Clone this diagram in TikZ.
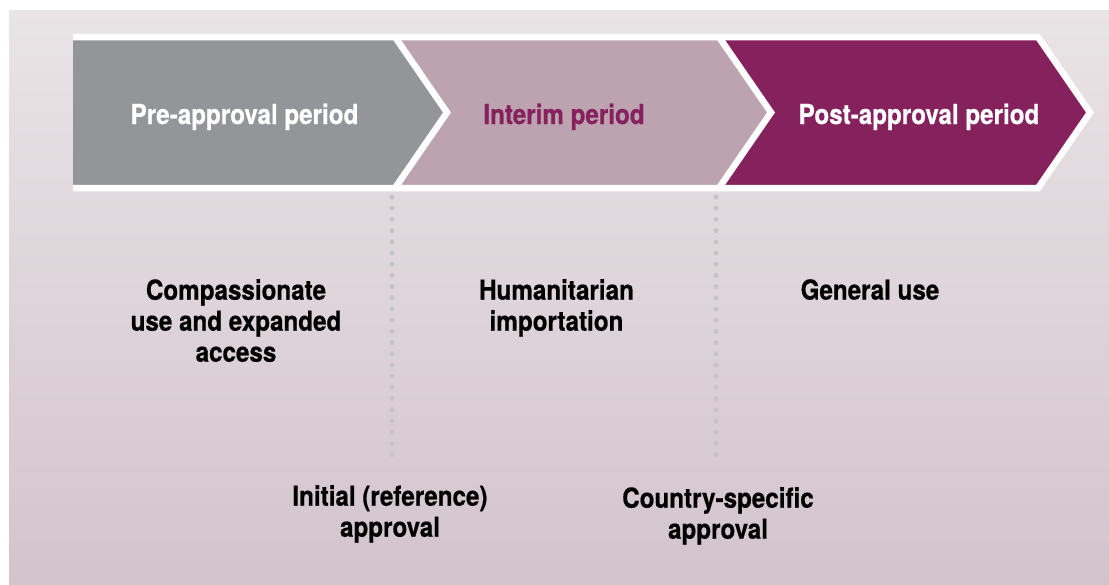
\documentclass[tikz,border=0pt]{standalone}
\usepackage{fontspec}
\setmainfont{TeX Gyre Heros}[FakeStretch=0.88, BoldFeatures={FakeBold=0.6}]
\definecolor{bgtop}{HTML}{E9E4E6}
\definecolor{bgbot}{HTML}{D3C4CC}
\definecolor{cgray}{HTML}{939598}
\definecolor{cpink}{HTML}{BDA3AF}
\definecolor{cpurple}{HTML}{85215D}
\definecolor{dotcol}{HTML}{C3C5C8}
\tikzset{
  head/.style={inner sep=0pt, anchor=base, font=\fontsize{27.5}{31}\selectfont\bfseries},
  body/.style={inner sep=0pt, anchor=north, align=center, text=black, font=\fontsize{27.5}{31}\selectfont\bfseries},
  sepline/.style={white, line width=6.5pt, line join=miter},
  dotline/.style={dotcol, line width=5pt, line cap=round, dash pattern=on 0pt off 11.2pt}
}
\begin{document}
\begin{tikzpicture}[x=1pt,y=-1pt]
\useasboundingbox (0,0) rectangle (1109,584);
\fill[white] (0,0) rectangle (1109,584);
\shade[top color=bgtop, bottom color=bgbot] (9,10) rectangle (1109,584);
% chevrons
\fill[cgray] (73,37) -- (395,37) -- (447,112.5) -- (395,188) -- (73,188) -- cycle;
\fill[cpink] (395,37) -- (719,37) -- (771,112.5) -- (719,188) -- (395,188) -- (447,112.5) -- cycle;
\fill[cpurple] (719,37) -- (1038,37) -- (1090,112.5) -- (1038,188) -- (719,188) -- (771,112.5) -- cycle;
% white outlines
\draw[sepline] (73,37) -- (1038,37) -- (1090,112.5) -- (1038,188) -- (73,188);
\draw[sepline] (395,37) -- (447,112.5) -- (395,188);
\draw[sepline] (719,37) -- (771,112.5) -- (719,188);
% dotted milestone lines
\coordinate (d1top) at (392,197);
\coordinate (d1bot) at (392,465);
\coordinate (d2top) at (716,197);
\coordinate (d2bot) at (716,465);
\draw[dotline] (d1top) -- (d1bot);
\draw[dotline] (d2top) -- (d2bot);
% headers
\node[head, text=white] (pre) at (244.5,124) {Pre-approval period};
\node[head, text=cpurple] (interim) at (564,124) {Interim period};
\node[head, text=white] (post) at (919,124) {Post-approval period};
% body texts
\node[body] (comp) at (236,279) {Compassionate\\use and expanded\\access};
\node[body] (human) at (556.5,279) {Humanitarian\\importation};
\node[body] (general) at (870,279) {General use};
\node[body] (initial) at (390,485) {Initial (reference)\\approval};
\node[body] (country) at (718,487) {Country-specific\\approval};
\end{tikzpicture}
\end{document}
